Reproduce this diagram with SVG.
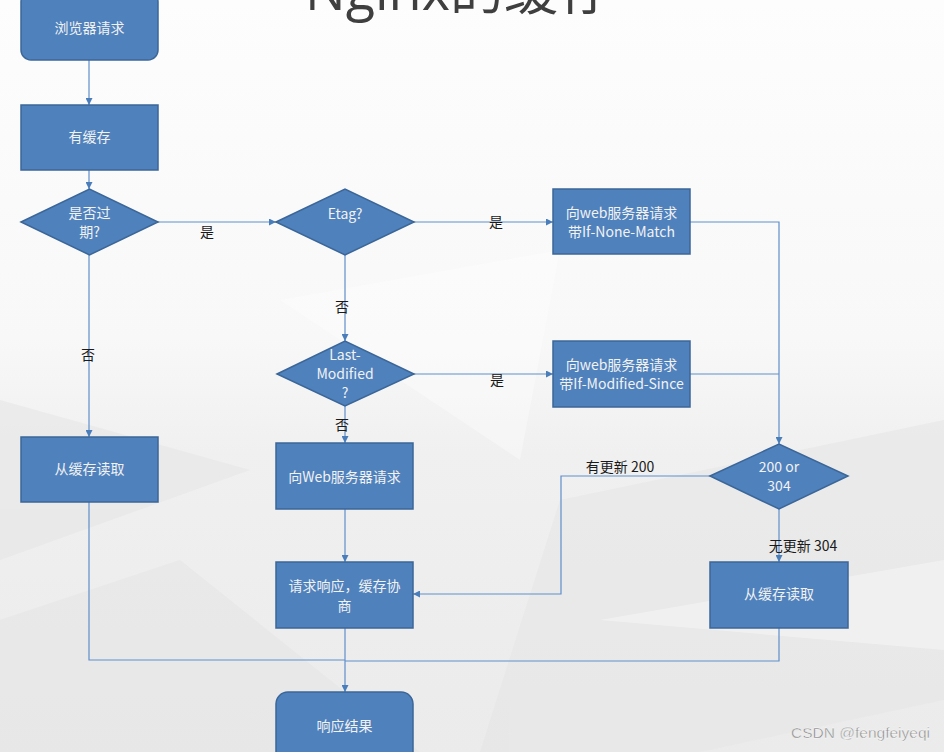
<svg xmlns="http://www.w3.org/2000/svg" width="944" height="752" viewBox="0 0 944 752">
<defs>
<linearGradient id="bg" x1="0" y1="0" x2="0" y2="1">
<stop offset="0" stop-color="#fdfdfd"/>
<stop offset="0.45" stop-color="#f8f8f8"/>
<stop offset="0.6" stop-color="#f0f0f0"/>
<stop offset="1" stop-color="#ebebeb"/>
</linearGradient>
<marker id="ar" viewBox="0 0 10 10" refX="10" refY="5" markerWidth="7" markerHeight="7" markerUnits="userSpaceOnUse" orient="auto">
<path d="M0,0 L10,5 L0,10 z" fill="#4a7ebb"/>
</marker>
<style>
.n{fill:#4f81bd;stroke:#3b6698;stroke-width:1.5}
.t{font-family:"Noto Sans CJK SC","Liberation Sans",sans-serif;font-size:14px;fill:#f2f2f2;text-anchor:middle}
.l{font-family:"Noto Sans CJK SC","Liberation Sans",sans-serif;font-size:14px;fill:#1a1a1a;text-anchor:middle}
.c{fill:none;stroke:#5f8fcb;stroke-width:1.2}
.a{marker-end:url(#ar)}
</style>
</defs>
<rect width="944" height="752" fill="url(#bg)"/>
<g fill="#e6e6e6" opacity="0.6">
<polygon points="0,400 250,470 0,560"/>
<polygon points="0,620 180,560 420,752 0,752"/>
<polygon points="560,500 944,420 944,700 700,752 480,752"/>
</g>
<g fill="#ffffff" opacity="0.35">
<polygon points="280,300 560,250 520,460"/>
<polygon points="600,620 944,560 944,650"/>
</g>
<text x="305" y="10" font-family="'Open Sans','Noto Sans CJK SC',sans-serif" font-size="54" fill="#3f3f3f">Nginx的缓存</text>

<g id="connectors">
<path class="c a" d="M89,60 V105"/>
<path class="c a" d="M89,170 V189"/>
<path class="c a" d="M158,222 H276"/>
<path class="c a" d="M414,222 H553"/>
<path class="c a" d="M345,255 V341"/>
<path class="c a" d="M89,255 V437"/>
<path class="c a" d="M414,374 H553"/>
<path class="c a" d="M345,406 V443"/>
<path class="c a" d="M690,222 H779 V444"/>
<path class="c" d="M690,374 H779"/>
<path class="c a" d="M710,476 H561 V594 H413"/>
<path class="c a" d="M779,509 V562"/>
<path class="c a" d="M345,509 V562"/>
<path class="c a" d="M345,628 V692"/>
<path class="c" d="M89,502 V660 H345"/>
<path class="c" d="M779,628 V661 H345"/>
<text class="l" x="207" y="237">是</text>
<text class="l" x="496" y="227">是</text>
<text class="l" x="342" y="312">否</text>
<text class="l" x="88" y="360">否</text>
<text class="l" x="497" y="385">是</text>
<text class="l" x="342" y="430">否</text>
<text class="l" x="620" y="472">有更新 200</text>
<text class="l" x="803" y="551">无更新 304</text>
</g>

<g id="n1"><rect class="n" x="21" y="-8" width="137" height="68" rx="10"/><text class="t" x="89.5" y="33">浏览器请求</text></g>
<g id="n2"><rect class="n" x="21" y="105" width="137" height="65"/><text class="t" x="89.5" y="142">有缓存</text></g>
<g id="n3"><polygon class="n" points="21,222 89.5,189 158,222 89.5,255"/><text class="t" x="89.5" y="218">是否过</text><text class="t" x="89.5" y="237">期?</text></g>
<g id="n4"><polygon class="n" points="276,222 345,189 414,222 345,255"/><text class="t" x="345" y="219">Etag?</text></g>
<g id="n5"><rect class="n" x="553" y="189" width="137" height="65"/><text class="t" x="621.5" y="218">向web服务器请求</text><text class="t" x="621.5" y="237">带If-None-Match</text></g>
<g id="n6"><polygon class="n" points="277,374 345,341 414,374 345,406"/><text class="t" x="345" y="360">Last-</text><text class="t" x="345" y="379">Modified</text><text class="t" x="345" y="398">?</text></g>
<g id="n7"><rect class="n" x="553" y="341" width="137" height="66"/><text class="t" x="621.5" y="370">向web服务器请求</text><text class="t" x="621.5" y="389">带If-Modified-Since</text></g>
<g id="n8"><rect class="n" x="21" y="437" width="137" height="65"/><text class="t" x="89.5" y="474">从缓存读取</text></g>
<g id="n9"><rect class="n" x="276" y="443" width="137" height="66"/><text class="t" x="344.5" y="482">向Web服务器请求</text></g>
<g id="n10"><polygon class="n" points="710,476 779,444 848,476 779,509"/><text class="t" x="779" y="472">200 or</text><text class="t" x="779" y="491">304</text></g>
<g id="n11"><rect class="n" x="276" y="562" width="137" height="66"/><text class="t" x="344.5" y="591">请求响应，缓存协</text><text class="t" x="344.5" y="611">商</text></g>
<g id="n12"><rect class="n" x="710" y="562" width="138" height="66"/><text class="t" x="779" y="599">从缓存读取</text></g>
<g id="n13"><rect class="n" x="276" y="692" width="137" height="72" rx="12"/><text class="t" x="344.5" y="731">响应结果</text></g>

<text x="930" y="738" text-anchor="end" font-family="'Liberation Sans',sans-serif" font-size="15.5" fill="#808080" stroke="#ffffff" stroke-width="0.4">CSDN @fengfeiyeqi</text>
</svg>
